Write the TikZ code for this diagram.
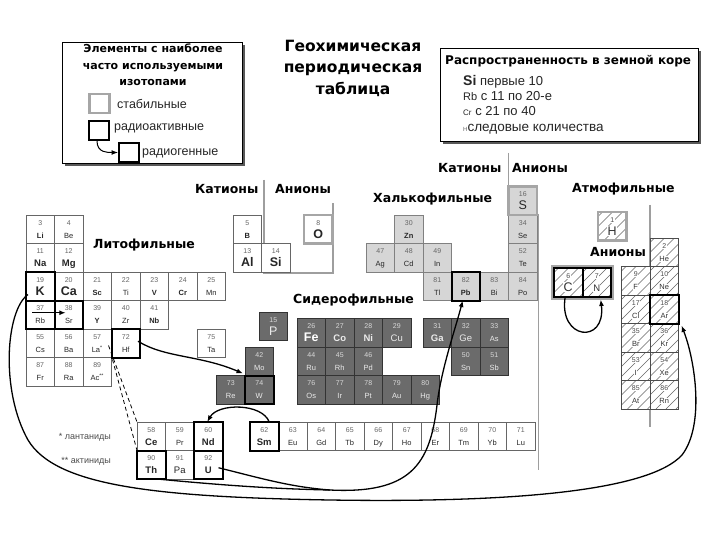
\documentclass[tikz,border=0pt]{standalone}
\usepackage{fontspec}
\setmainfont{Liberation Sans}
\newfontfamily\hfont{DejaVu Sans}
\usetikzlibrary{arrows.meta,calc,shadows}
\newcommand\sA{\fontsize{7.5}{8}\selectfont}
\newcommand\sB{\fontsize{7.5}{8}\selectfont\bfseries}
\newcommand\sM{\fontsize{9.5}{10}\selectfont\bfseries}
\newcommand\sN{\fontsize{9.5}{10}\selectfont}
\newcommand\sL{\fontsize{12.5}{13}\selectfont\bfseries}
\newcommand\sR{\fontsize{12.5}{13}\selectfont}
\newcommand\el[6]{%
  \node[#1] (#2) at (#3,#4) {};
  \node[numtxt,#1num] at ([yshift=4pt]#2.center) {#5};
  \node[symtxt,#1sym] at ([yshift=-9pt]#2.center) {#6};
}
\tikzset{
  cellbase/.style={rectangle, inner sep=0pt, outer sep=0pt, minimum width=28.5pt, minimum height=28.5pt, anchor=north west},
  lith/.style={cellbase, draw=black!60, fill=white, line width=0.5pt},
  chal/.style={cellbase, draw=black!50, fill=black!16, line width=0.5pt},
  sid/.style={cellbase, draw=black!80, fill=black!58, line width=0.6pt},
  atm/.style={cellbase, draw=black!70, fill=white, line width=0.6pt,
     path picture={\foreach \d in {-24,-14,...,26} \draw[black!60, line width=0.4pt]
        ([xshift=\d pt]path picture bounding box.south west) -- ++(30pt,30pt);}},
  numtxt/.style={anchor=base, inner sep=0pt, font=\fontsize{7}{7}\selectfont},
  symtxt/.style={anchor=base, inner sep=0pt},
  lithnum/.style={text=black!60}, lithsym/.style={text=black!85},
  chalnum/.style={text=black!60}, chalsym/.style={text=black!85},
  sidnum/.style={text=black!15}, sidsym/.style={text=black!8},
  atmnum/.style={text=black!70, fill=white, inner sep=0.3pt}, atmsym/.style={text=black!80, fill=white, inner sep=0.3pt},
  radbox/.style={draw=black, line width=2pt},
  stabbox/.style={draw=black!35, line width=2.5pt},
  bound/.style={draw=black!38, line width=1.8pt},
  arr/.style={draw=black, line width=1.3pt, -{Latex[length=6.5pt,width=5pt]}},
  conn/.style={draw=black, line width=1.3pt},
  dashline/.style={draw=black, line width=0.8pt, dash pattern=on 4pt off 3pt},
  panel/.style={draw=black, line width=0.8pt, fill=white, anchor=north west, inner sep=0pt,
     drop shadow={shadow xshift=2.5pt, shadow yshift=-2.5pt, fill=black!65, opacity=1}},
  blocklbl/.style={anchor=base west, inner sep=0pt, font=\hfont\bfseries\fontsize{12.5}{14}\selectfont},
  legtxt/.style={anchor=base west, inner sep=0pt, font=\fontsize{13}{14}\selectfont, text=black!85},
  iconbox/.style={rectangle, anchor=north west, minimum width=20pt, minimum height=19pt, inner sep=0pt}
}
\begin{document}
\begin{tikzpicture}[x=1pt,y=-1pt]
\useasboundingbox (0,0) rectangle (720,540);
\fill[white] (0,0) rectangle (720,540);

% ---------- legend panels ----------
\node[panel, minimum width=180pt, minimum height=121pt] (legbox) at (62,42) {};
\node[anchor=north, align=center, inner sep=0pt, font=\hfont\bfseries\fontsize{11}{16.5}\selectfont] (legtitle) at (153,44) {Элементы с наиболее\\часто используемыми\\изотопами};
\node[iconbox, stabbox] (lgstable) at (88,93) {};
\node[iconbox, radbox] (lgradio) at (88,120) {};
\node[iconbox, radbox] (lgradiogen) at (118,142) {};
\node[legtxt, font=\fontsize{12.5}{14}\selectfont] (tstable) at (117,109) {стабильные};
\node[legtxt, font=\fontsize{12.5}{14}\selectfont] (tradio) at (114,131) {радиоактивные};
\node[legtxt, font=\fontsize{12.5}{14}\selectfont] (tradiogen) at (142,156) {радиогенные};
\draw[arr, line width=1pt] ([xshift=-2pt]lgradio.south) .. controls +(0,12) and +(-10,0) .. (lgradiogen.west);

\node[anchor=north, align=center, inner sep=0pt, font=\hfont\bfseries\fontsize{15.5}{21.5}\selectfont] (title) at (353,40) {Геохимическая\\периодическая\\таблица};

\node[panel, minimum width=258pt, minimum height=93pt] (abbox) at (440,48) {};
\node[anchor=base west, inner sep=0pt, font=\hfont\bfseries\fontsize{12}{13}\selectfont] (abtitle) at (445,65) {Распространенность в земной коре};
\node[legtxt] (ab1) at (463,86) {{\bfseries\fontsize{14}{14}\selectfont Si} первые 10};
\node[legtxt] (ab2) at (463,101) {{\fontsize{11}{11}\selectfont Rb} с 11 по 20-е};
\node[legtxt] (ab3) at (463,116) {{\fontsize{8}{8}\selectfont Cr} с 21 по 40};
\node[legtxt, font=\fontsize{13.5}{14}\selectfont] (ab4) at (463,132) {{\fontsize{6}{6}\selectfont\color{black!60}H}следовые количества};

% ---------- boundary lines ----------
\draw[bound] (264,180) -- (264,273) -- (333,273) -- (333,203);
\draw[bound] (508.5,153) -- (508.5,190);
\draw[bound] (538.5,214) -- (538.5,470);
\draw[bound] (650,205) -- (650,427);

% ---------- block labels ----------
\node[blocklbl] (lcat1) at (195,194) {Катионы};
\node[blocklbl] (lan1) at (275,194) {Анионы};
\node[blocklbl] (llith) at (93,248) {Литофильные};
\node[blocklbl] (lsid) at (293,303) {Сидерофильные};
\node[blocklbl] (lchal) at (373,203) {Халькофильные};
\node[blocklbl] (lcat2) at (438,173) {Катионы};
\node[blocklbl] (lan2) at (512,173) {Анионы};
\node[blocklbl] (latm) at (572,193) {Атмофильные};
\node[blocklbl] (lan3) at (590,256) {Анионы};

% ---------- lithophile ----------
\el{lith}{Li}{26}{215}{3}{\sB Li}
\el{lith}{Be}{54.5}{215}{4}{\sA Be}
\el{lith}{Na}{26}{243.5}{11}{\sM Na}
\el{lith}{Mg}{54.5}{243.5}{12}{\sM Mg}
\el{lith}{K}{26}{272}{19}{\sL K}
\el{lith}{Ca}{54.5}{272}{20}{\sL Ca}
\el{lith}{Sc}{83}{272}{21}{\sB Sc}
\el{lith}{Ti}{111.5}{272}{22}{\sA Ti}
\el{lith}{V}{140}{272}{23}{\sB V}
\el{lith}{Cr}{168.5}{272}{24}{\sB Cr}
\el{lith}{Mn}{197}{272}{25}{\sA Mn}
\el{lith}{Rb}{26}{300.5}{37}{\sA Rb}
\el{lith}{Sr}{54.5}{300.5}{38}{\sA Sr}
\el{lith}{Y}{83}{300.5}{39}{\sB Y}
\el{lith}{Zr}{111.5}{300.5}{40}{\sA Zr}
\el{lith}{Nb}{140}{300.5}{41}{\sB Nb}
\el{lith}{Cs}{26}{329}{55}{\sA Cs}
\el{lith}{Ba}{54.5}{329}{56}{\sA Ba}
\el{lith}{La}{83}{329}{57}{\sA La\textsuperscript{*}}
\el{lith}{Hf}{111.5}{329}{72}{\sA Hf}
\el{lith}{Ta}{197}{329}{75}{\sA Ta}
\el{lith}{Fr}{26}{357.5}{87}{\sA Fr}
\el{lith}{Ra}{54.5}{357.5}{88}{\sA Ra}
\el{lith}{Ac}{83}{357.5}{89}{\sA Ac\textsuperscript{**}}
\el{lith}{B}{233}{215}{5}{\sB B}
\el{lith}{Al}{233}{243.5}{13}{\sL Al}
\el{lith}{Si}{261.5}{243.5}{14}{\sL Si}
\el{lith}{O}{304}{215}{8}{\sL O}

% ---------- chalcophile ----------
\el{chal}{S}{508.5}{186.5}{16}{\sR S}
\el{chal}{Se}{508.5}{215}{34}{\sA Se}
\el{chal}{Te}{508.5}{243.5}{52}{\sA Te}
\el{chal}{Po}{508.5}{272}{84}{\sA Po}
\el{chal}{Zn}{394.5}{215}{30}{\sB Zn}
\el{chal}{Ag}{366}{243.5}{47}{\sA Ag}
\el{chal}{Cd}{394.5}{243.5}{48}{\sA Cd}
\el{chal}{In}{423}{243.5}{49}{\sA In}
\el{chal}{Tl}{423}{272}{81}{\sA Tl}
\el{chal}{Pb}{451.5}{272}{82}{\sB Pb}
\el{chal}{Bi}{480}{272}{83}{\sA Bi}

% ---------- siderophile ----------
\el{sid}{P}{259}{312}{15}{\sR P}
\el{sid}{Fe}{297}{318.5}{26}{\sL\color{white} Fe}
\el{sid}{Co}{325.5}{318.5}{27}{\sM Co}
\el{sid}{Ni}{354}{318.5}{28}{\sM Ni}
\el{sid}{Cu}{382.5}{318.5}{29}{\sN Cu}
\el{sid}{Ga}{423}{318.5}{31}{\sM Ga}
\el{sid}{Ge}{451.5}{318.5}{32}{\sN Ge}
\el{sid}{As}{480}{318.5}{33}{\sA As}
\el{sid}{Ru}{297}{347}{44}{\sA Ru}
\el{sid}{Rh}{325.5}{347}{45}{\sA Rh}
\el{sid}{Pd}{354}{347}{46}{\sA Pd}
\el{sid}{Sn}{451.5}{347}{50}{\sA Sn}
\el{sid}{Sb}{480}{347}{51}{\sA Sb}
\el{sid}{Os}{297}{375.5}{76}{\sA Os}
\el{sid}{Ir}{325.5}{375.5}{77}{\sA Ir}
\el{sid}{Pt}{354}{375.5}{78}{\sA Pt}
\el{sid}{Au}{382.5}{375.5}{79}{\sA Au}
\el{sid}{Hg}{411}{375.5}{80}{\sA Hg}
\el{sid}{Mo}{245}{347}{42}{\sA Mo}
\el{sid}{Re}{216.5}{375.5}{73}{\sA Re}
\el{sid}{W}{245}{375.5}{74}{\sA W}

% ---------- atmophile ----------
\el{atm}{H}{598}{212}{1}{\sR H}
\el{atm}{He}{650}{238}{2}{\sA He}
\el{atm}{F}{621.5}{266.5}{9}{\sA F}
\el{atm}{Ne}{650}{266.5}{10}{\sA Ne}
\el{atm}{Cl}{621.5}{295}{17}{\sA Cl}
\el{atm}{Ar}{650}{295}{18}{\sA Ar}
\el{atm}{Br}{621.5}{323.5}{35}{\sA Br}
\el{atm}{Kr}{650}{323.5}{36}{\sA Kr}
\el{atm}{I}{621.5}{352}{53}{\sA I}
\el{atm}{Xe}{650}{352}{54}{\sA Xe}
\el{atm}{At}{621.5}{380.5}{85}{\sA At}
\el{atm}{Rn}{650}{380.5}{86}{\sA Rn}
\el{atm}{C}{554}{268}{6}{\sR C}
\el{atm}{N}{582.5}{268}{7}{\sN N}

% ---------- lanthanides / actinides ----------
\el{lith}{Ce}{137}{422}{58}{\sM Ce}
\el{lith}{Pr}{165.5}{422}{59}{\sA Pr}
\el{lith}{Nd}{194}{422}{60}{\sM Nd}
\el{lith}{Th}{137}{450.5}{90}{\sM Th}
\el{lith}{Pa}{165.5}{450.5}{91}{\sN Pa}
\el{lith}{U}{194}{450.5}{92}{\sM U}
\el{lith}{Sm}{250}{422}{62}{\sM Sm}
\el{lith}{Eu}{278.5}{422}{63}{\sA Eu}
\el{lith}{Gd}{307}{422}{64}{\sA Gd}
\el{lith}{Tb}{335.5}{422}{65}{\sA Tb}
\el{lith}{Dy}{364}{422}{66}{\sA Dy}
\el{lith}{Ho}{392.5}{422}{67}{\sA Ho}
\el{lith}{Er}{421}{422}{68}{\sA Er}
\el{lith}{Tm}{449.5}{422}{69}{\sA Tm}
\el{lith}{Yb}{478}{422}{70}{\sA Yb}
\el{lith}{Lu}{506.5}{422}{71}{\sA Lu}
\node[anchor=base east, inner sep=0pt, font=\fontsize{9}{9}\selectfont, text=black!70] (tlan) at (111,439) {* лантаниды};
\node[anchor=base east, inner sep=0pt, font=\fontsize{9}{9}\selectfont, text=black!70] (tact) at (111,463) {** актиниды};

% ---------- stable & radioactive borders ----------
\foreach \n in {O,S,H} \draw[stabbox] (\n.north west) rectangle (\n.south east);
\draw[stabbox] ([shift={(-2,-2)}]C.north west) rectangle ([shift={(2,2)}]N.south east);
\foreach \n in {K,Rb,Sr,Hf,Pb,W,Ar,C,N,Nd,Sm,Th,U} \draw[radbox] (\n.north west) rectangle (\n.south east);

% ---------- connectors ----------
\draw[dashline] ([shift={(-3,-12)}]La.south east) -- (Ce.north west);
\draw[dashline] ([shift={(1,2)}]La.south east) -- (Th.north west);
\draw[arr] ([shift={(-8,-2)}]Rb.center) -- ([shift={(-3,-2)}]Sr.center);
\draw[arr] ([shift={(-2,-2)}]Hf.east) .. controls (165,358) and (200,355) .. ([shift={(-2,-2)}]W.north west);
\draw[arr] ([xshift=5pt]Sm.north) .. controls (262,403) and (218,403) .. ([xshift=-1pt]Nd.north);
\draw[arr] ([shift={(-3,0)}]C.south) .. controls (558,340) and (606,345) .. ([shift={(4,3)}]N.south);
\coordinate (mrg) at (330,490);
\draw[conn] ([xshift=6pt]Th.south) .. controls (230,486) and (280,489) .. (mrg);
\draw[arr] ([shift={(-4,3)}]U.east) .. controls (260,478) and (290,487) .. (mrg)
   .. controls (410,494) and (430,465) .. (437,405) .. controls (441,370) and (455,330) .. ([xshift=-3pt]Pb.south);
\draw[arr] ([shift={(2,-6)}]K.south west) .. controls (6,310) and (0,390) .. (28,440)
   .. controls (55,485) and (150,497) .. (330,500) .. controls (520,503) and (650,490) .. (682,455)
   .. controls (705,425) and (695,360) .. ([shift={(3,2)}]Ar.south east);
\end{tikzpicture}
\end{document}
